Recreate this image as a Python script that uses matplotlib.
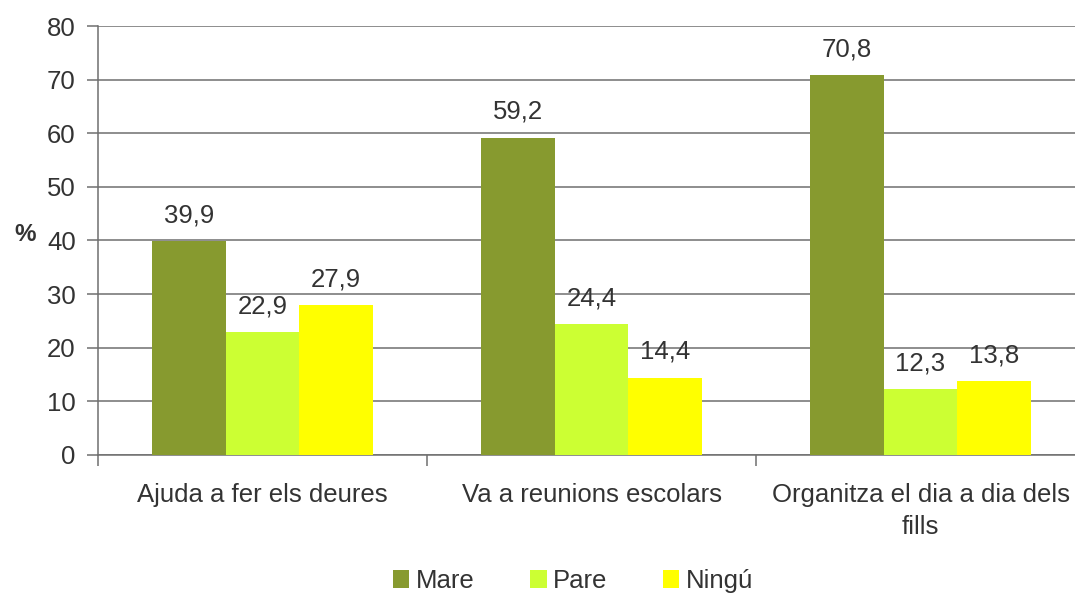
import numpy as np
import matplotlib
matplotlib.use("Agg")
import matplotlib.pyplot as plt

plt.rcParams['font.family'] = ['Liberation Sans', 'DejaVu Sans']

categories = ["Ajuda a fer els deures", "Va a reunions escolars",
              "Organitza el dia a dia dels\nfills"]
series = ["Mare", "Pare", "Ningú"]
mare = [39.9, 59.2, 70.8]
pare = [22.9, 24.4, 12.3]
ningu = [27.9, 14.4, 13.8]
colors = ["#879A2F", "#CCFF33", "#FFFF00"]

txt = "#333333"
gray = "#6f6f6f"
fs = 18.5
fig = plt.figure(figsize=(10.75, 5.94), dpi=100)
ax = fig.add_axes([98 / 1075, 139 / 594, 987 / 1075, 429 / 594])

w = 0.223
centers = np.arange(len(categories)) + 0.5
for k, (name, vals) in enumerate(zip(series, [mare, pare, ningu])):
    xs = centers + (k - 1) * w
    ax.bar(xs, vals, width=w, color=colors[k], label=name, zorder=3)
    for x, v in zip(xs, vals):
        ax.annotate(f"{v:.1f}".replace(".", ","), (x, v), xytext=(0, 10),
                    textcoords="offset points", ha="center", va="bottom",
                    fontsize=fs, color=txt)

ax.set_xlim(0, 3)
ax.set_ylim(0, 80)
ax.set_yticks(range(0, 81, 10))
ax.yaxis.grid(True, color=gray, linewidth=1.1, zorder=0)
ax.set_axisbelow(True)

ax.set_xticks([0, 1, 2, 3])
ax.set_xticklabels([])
ax.set_xticks(centers, minor=True)
ax.set_xticklabels(categories, minor=True, fontsize=fs, color=txt,
                   linespacing=1.45)
ax.tick_params(axis="x", which="minor", length=0, pad=20)
ax.tick_params(axis="x", which="major", length=8, color=gray, width=1.1)
ax.tick_params(axis="y", length=8, color=gray, width=1.1,
               labelsize=fs, labelcolor=txt, pad=8)

for s in ["top", "right"]:
    ax.spines[s].set_visible(False)
for s in ["left", "bottom"]:
    ax.spines[s].set_color(gray)
    ax.spines[s].set_linewidth(1.1)

fig.text(25 / 1075, 1 - 235 / 594, "%", fontsize=fs - 1, fontweight="bold",
         color=txt, ha="center", va="center")

fig.legend(loc="center", bbox_to_anchor=(0.533, 1 - 581 / 594), ncol=3,
           frameon=False, fontsize=fs, handlelength=0.65, handleheight=0.65,
           handletextpad=0.25, columnspacing=2.15, labelcolor=txt,
           borderpad=0)

fig.savefig("out.png", dpi=100)
